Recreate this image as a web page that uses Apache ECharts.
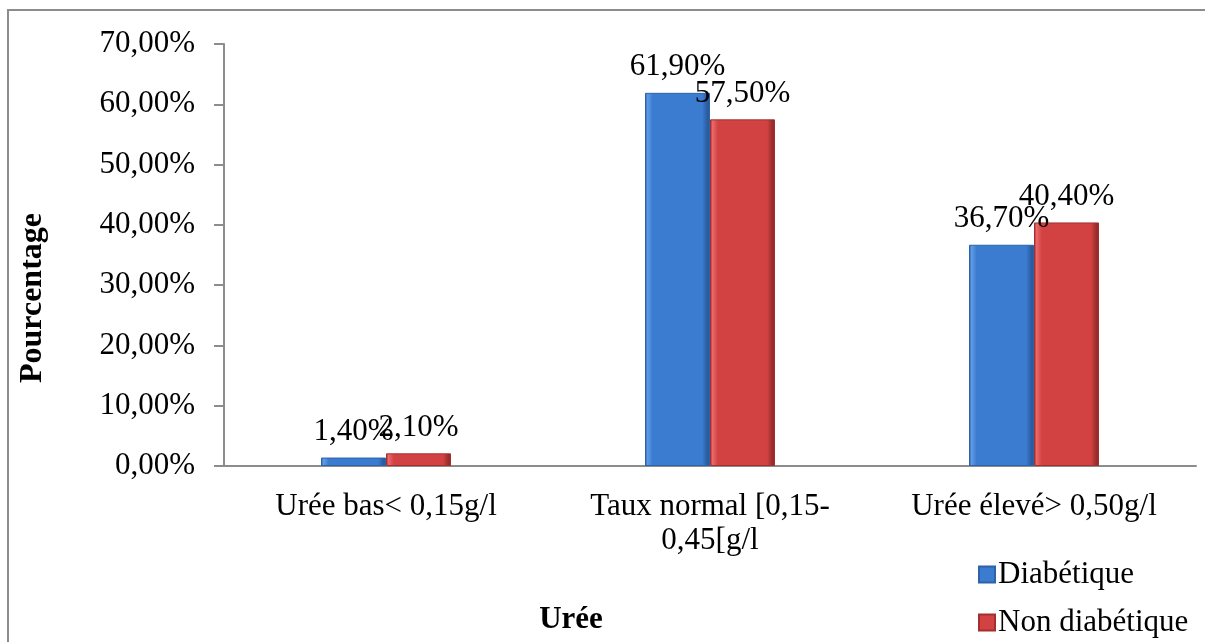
<!DOCTYPE html>
<html>
<head>
<meta charset="utf-8">
<script src="https://cdn.jsdelivr.net/npm/echarts@6/dist/echarts.min.js"></script>
<style>
  html, body { margin: 0; padding: 0; background: #fff; }
  #chart { width: 1205px; height: 642px; }
</style>
</head>
<body>
<div id="chart"></div>
<script>
// Urée levels by group (percent of patients)
const categories = ['Urée bas< 0,15g/l', 'Taux normal [0,15-0,45[g/l', 'Urée élevé> 0,50g/l'];
const diabetique = [1.4, 61.9, 36.7];
const nonDiabetique = [2.1, 57.5, 40.4];
const seriesNames = ['Diabétique', 'Non diabétique'];
const yTicks = { min: 0, max: 70, interval: 10 };

const FONT = "'Liberation Serif', 'DejaVu Serif', serif";
const pct = v => v.toFixed(2).replace('.', ',') + '%';

// horizontal gradient gives the bars a bevelled look
function bevel(light, mid, dark) {
  return new echarts.graphic.LinearGradient(0, 0, 1, 0, [
    { offset: 0, color: dark },
    { offset: 0.04, color: light },
    { offset: 0.12, color: mid },
    { offset: 0.88, color: mid },
    { offset: 0.96, color: dark },
    { offset: 1, color: dark }
  ]);
}

const chart = echarts.init(document.getElementById('chart'), null, { renderer: 'canvas' });

const labelStyle = {
  show: true,
  position: 'top',
  distance: 10,
  fontFamily: FONT,
  fontSize: 31,
  color: '#000',
  formatter: p => pct(p.value)
};

chart.setOption({
  animation: false,
  backgroundColor: '#fff',
  grid: { left: 224, right: 9, top: 44, bottom: 176, containLabel: false },
  legend: {
    orient: 'vertical',
    left: 973,
    top: 552,
    height: 200,
    itemGap: 13,
    itemWidth: 16,
    itemHeight: 16,
    icon: 'rect',
    textStyle: { fontFamily: FONT, fontSize: 31, lineHeight: 35, color: '#000', padding: [0, 0, 0, -2] },
    data: seriesNames
  },
  xAxis: {
    type: 'category',
    data: categories,
    axisLine: { lineStyle: { color: '#8c8c8c', width: 2 } },
    axisTick: { show: false },
    axisLabel: {
      interval: 0,
      margin: 24,
      fontFamily: FONT,
      fontSize: 31,
      lineHeight: 34,
      color: '#000',
      formatter: v => v.replace('[0,15-', '[0,15-\n')
    }
  },
  yAxis: {
    type: 'value',
    min: yTicks.min,
    max: yTicks.max,
    interval: yTicks.interval,
    splitLine: { show: false },
    axisLine: { show: true, lineStyle: { color: '#8c8c8c', width: 2 } },
    axisTick: { show: true, length: 10, lineStyle: { color: '#8c8c8c', width: 2 } },
    axisLabel: {
      margin: 29,
      fontFamily: FONT,
      fontSize: 31,
      color: '#000',
      formatter: v => pct(v)
    }
  },
  series: [
    {
      name: seriesNames[0],
      type: 'bar',
      data: diabetique,
      barWidth: 65,
      barGap: '0%',
      itemStyle: {
        color: bevel('#5f9be6', '#3b7bd0', '#2a5c9e'),
        borderColor: '#2d63a8',
        borderWidth: 1
      },
      label: labelStyle
    },
    {
      name: seriesNames[1],
      type: 'bar',
      data: nonDiabetique,
      barWidth: 65,
      barGap: '0%',
      itemStyle: {
        color: bevel('#ec6a6a', '#d24242', '#992c2c'),
        borderColor: '#a33030',
        borderWidth: 1
      },
      label: labelStyle
    }
  ],
  graphic: [
    {
      type: 'rect',
      shape: { x: 8, y: 10, width: 1260, height: 700 },
      style: { fill: 'none', stroke: '#8c8c8c', lineWidth: 2 },
      silent: true
    },
    {
      type: 'text',
      x: 33, y: 298,
      rotation: Math.PI / 2,
      style: {
        text: 'Pourcentage',
        fontFamily: FONT, fontSize: 32, fontWeight: 'bold', fill: '#000',
        align: 'center', verticalAlign: 'middle'
      }
    },
    {
      type: 'text',
      x: 571, y: 620,
      style: {
        text: 'Urée',
        fontFamily: FONT, fontSize: 31, fontWeight: 'bold', fill: '#000',
        align: 'center', verticalAlign: 'middle'
      }
    }
  ]
});
</script>
</body>
</html>
